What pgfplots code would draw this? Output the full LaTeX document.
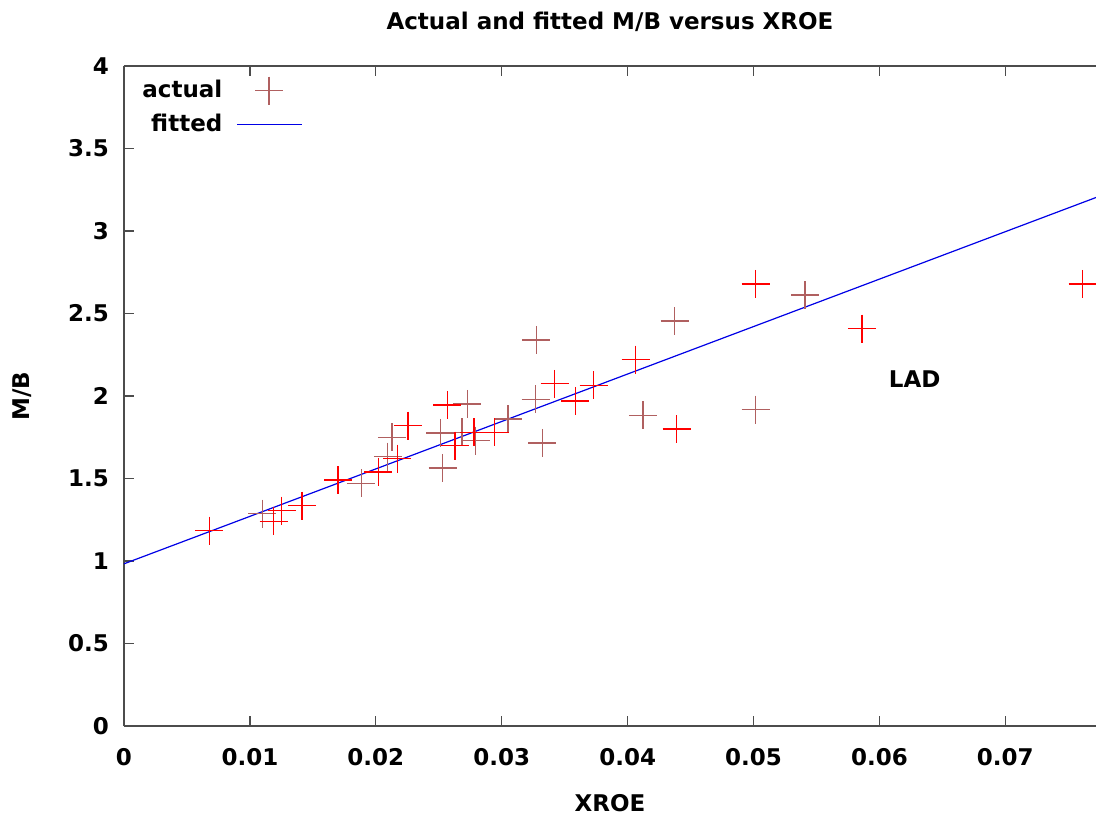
\documentclass[border=0pt]{standalone}
\usepackage{fontspec}
\setmainfont{DejaVu Sans}
\usepackage{pgfplots}
\pgfplotsset{compat=1.18}

\definecolor{markdark}{RGB}{176,96,96}
\definecolor{fitblue}{RGB}{0,0,230}

\pgfplotsset{
  crosslegend/.style={legend image code/.code={\path (0pt,0pt) (37.5pt,0pt);
    \draw[#1] plot coordinates {(21pt,0pt)};}},
  linelegend/.style={legend image code/.code={\path (0pt,0pt) (37.5pt,0pt);
    \draw[#1] (5pt,0pt) -- (37.5pt,0pt);}},
}

% crosses that look dull/dark in the reference
\pgfplotstableread{
x y
0.01098 1.287
0.01886 1.470
0.02095 1.633
0.02127 1.750
0.02530 1.564
0.02513 1.776
0.02728 1.952
0.02685 1.780
0.02794 1.730
0.03050 1.860
0.03275 2.340
0.03270 1.980
0.03323 1.716
0.04373 2.454
0.04122 1.883
0.05410 2.612
0.05016 1.918
}\actualdark

% crosses that look bright red
\pgfplotstableread{
x y
0.00677 1.184
0.01188 1.240
0.01251 1.305
0.01415 1.335
0.01700 1.490
0.02020 1.540
0.02172 1.620
0.02257 1.820
0.02569 1.946
0.02630 1.700
0.02780 1.780
0.02944 1.780
0.03420 2.074
0.03585 1.970
0.03730 2.064
0.04063 2.220
0.04389 1.800
0.05016 2.680
0.05860 2.408
0.07614 2.680
}\actualred

\begin{document}
\begin{tikzpicture}
\begin{axis}[
  scale only axis, width=486pt, height=330pt,
  font=\fontsize{11.5}{13}\selectfont\bfseries,
  xmin=0, xmax=0.0772, ymin=0, ymax=4,
  axis x line=box, axis y line=left,
  axis line style={-, black!70, line width=0.6pt},
  tick align=inside, major tick length=5pt,
  tick style={black!70, line width=0.6pt},
  xtick={0,0.01,...,0.07}, ytick={0,0.5,...,4},
  scaled x ticks=false,
  /pgf/number format/assume math mode=true,
  xticklabel style={/pgf/number format/fixed, /pgf/number format/precision=2, yshift=-7.5pt},
  yticklabel style={/pgf/number format/fixed, xshift=-4pt},
  title={Actual and fitted M/B versus XROE},
  title style={at={(axis description cs:0.5,1.049)}, anchor=center},
  xlabel={XROE},
  xlabel style={at={(axis description cs:0.5,-0.1167)}, anchor=center},
  ylabel={M/B},
  ylabel style={at={(axis description cs:-0.105,0.5)}, anchor=center},
  legend style={at={(axis description cs:0,1)}, anchor=north west,
    draw=none, fill=none, xshift=4pt, yshift=-3pt,
    row sep=2.5pt, font=\fontsize{11.5}{13}\selectfont\bfseries},
  legend plot pos=right, legend cell align=right,
]
\addplot[only marks, mark=+, mark size=7pt, markdark, line width=0.7pt, crosslegend]
  table[x=x, y=y] {\actualdark};
\addlegendentry{actual}
\addplot[fitblue, line width=0.6pt, linelegend]
  coordinates {(0,0.983) (0.0772,3.203)};
\addlegendentry{fitted}
\addplot[only marks, mark=+, mark size=7pt, red, line width=0.7pt, forget plot]
  table[x=x, y=y] {\actualred};
\node at (axis cs:0.0628,2.10) {LAD};
\end{axis}
\pgfresetboundingbox
\useasboundingbox (-62pt,-44.5pt) rectangle (486pt,363pt);
\end{tikzpicture}
\end{document}
